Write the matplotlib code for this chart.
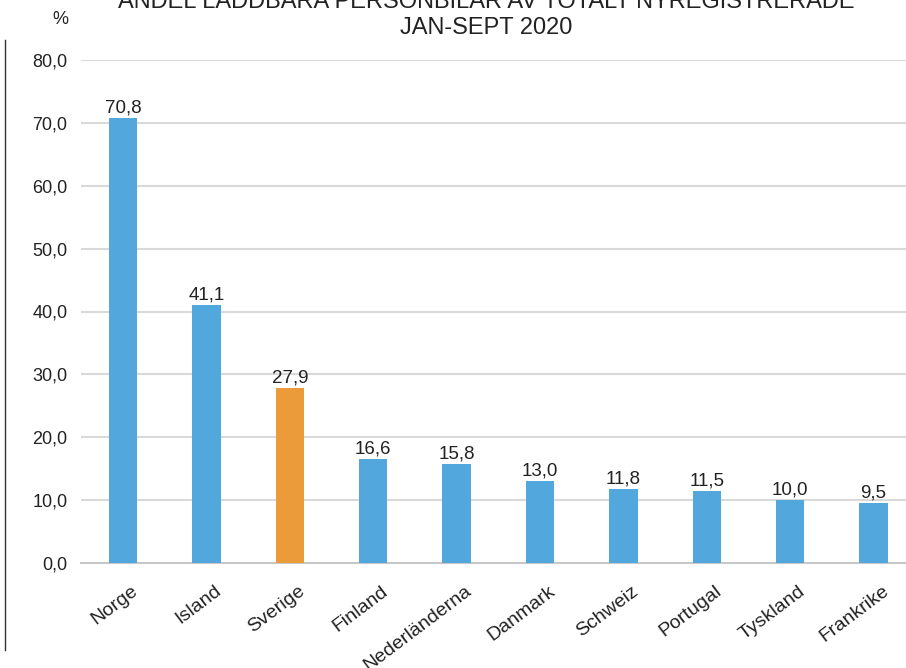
import matplotlib.pyplot as plt
from matplotlib.lines import Line2D
from matplotlib.transforms import ScaledTranslation

plt.rcParams['font.family'] = ['Liberation Sans', 'DejaVu Sans']

countries = ['Norge', 'Island', 'Sverige', 'Finland', 'Nederländerna',
             'Danmark', 'Schweiz', 'Portugal', 'Tyskland', 'Frankrike']
shares = [70.8, 41.1, 27.9, 16.6, 15.8, 13.0, 11.8, 11.5, 10.0, 9.5]
highlight = 'Sverige'
yticks = [0, 10, 20, 30, 40, 50, 60, 70, 80]

BLUE = '#52A7DC'
ORANGE = '#EB9B39'

W, H = 906, 668
fig = plt.figure(figsize=(W / 100, H / 100), dpi=100)
ax = fig.add_axes([81.3 / W, 105 / H, 834 / W, 503 / H])

colors = [ORANGE if c == highlight else BLUE for c in countries]
x = range(len(countries))
bars = ax.bar(x, shares, width=0.34, color=colors, zorder=3)

for b, v in zip(bars, shares):
    ax.annotate(f'{v:.1f}'.replace('.', ','),
                (b.get_x() + b.get_width() / 2, b.get_height()),
                xytext=(0, 1), textcoords='offset points',
                ha='center', va='bottom', fontsize=13.5, color='#222222')

ax.set_xlim(-0.5, len(countries) - 0.5)
ax.set_ylim(0, 80)
ax.set_yticks(yticks)
ax.set_yticklabels([f'{t:.1f}'.replace('.', ',') for t in yticks],
                   fontsize=13, color='#222222')
ax.set_xticks(list(x))
ax.set_xticklabels(countries, rotation=37, ha='right', rotation_mode='anchor',
                   fontsize=14, color='#222222')
ax.tick_params(axis='both', length=0)
ax.tick_params(axis='y', pad=10)
ax.tick_params(axis='x', pad=14)
shift = ScaledTranslation(8 / 100, 0, fig.dpi_scale_trans)
for lbl in ax.get_xticklabels():
    lbl.set_transform(lbl.get_transform() + shift)

ax.grid(axis='y', color='#D9D9D9', linewidth=1.5, zorder=0)
for s in ['top', 'right', 'left']:
    ax.spines[s].set_visible(False)
ax.spines['bottom'].set_color('#C8C8C8')
ax.spines['bottom'].set_linewidth(1.5)

fig.text(486 / W, 1 - 2 / H, 'ANDEL LADDBARA PERSONBILAR AV TOTALT NYREGISTRERADE',
         ha='center', va='center', fontsize=17, color='#222222')
fig.text(486 / W, 1 - 28 / H, 'JAN-SEPT 2020',
         ha='center', va='center', fontsize=17, color='#222222')
fig.text(60 / W, 1 - 20 / H, '%', ha='center', va='center',
         fontsize=13, color='#222222')

fig.add_artist(Line2D([5 / W, 5 / W], [1 - 40 / H, 1 - 650 / H],
                      transform=fig.transFigure, color='#333333', linewidth=1))

fig.savefig('out.png', dpi=100)
